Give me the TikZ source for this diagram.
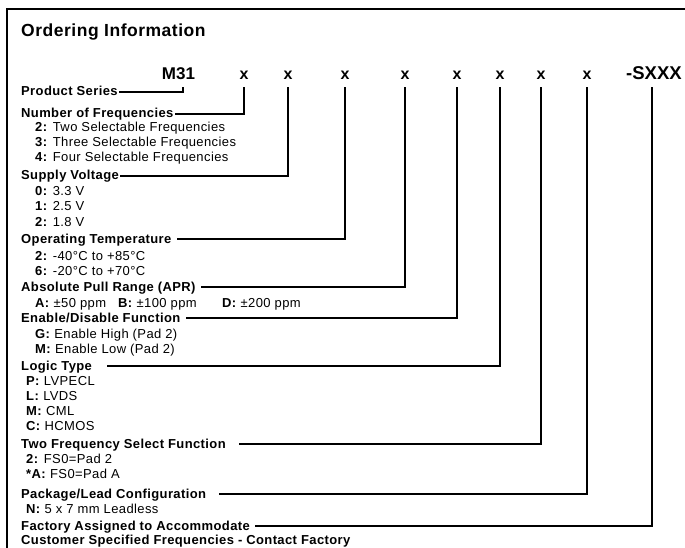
\documentclass[tikz,border=0pt]{standalone}
\usepackage{fontspec}
\setmainfont{Liberation Sans}
\newfontfamily\trkfont{Liberation Sans}[LetterSpace=3]
\newfontfamily\ttlfont{Liberation Sans}[LetterSpace=3]
\tikzset{
  frame/.style={line width=2pt},
  conn/.style={line width=1.6pt},
  code/.style={anchor=base, inner sep=0pt, font=\bfseries\fontsize{16}{18}\selectfont},
  hdr/.style={anchor=base west, inner sep=0pt, text height=8pt, text depth=0pt, font=\trkfont\bfseries\fontsize{13}{15}\selectfont},
  itm/.style={anchor=base west, inner sep=0pt, font=\trkfont\fontsize{13}{15}\selectfont}
}
\begin{document}
\begin{tikzpicture}[x=1pt,y=-1pt]
\useasboundingbox (0,0) rectangle (685,548);
\draw[frame] (7,549) -- (7,9.5) -- (686,9.5);

\node[anchor=base west, inner sep=0pt, font=\ttlfont\bfseries\fontsize{17.5}{20}\selectfont] (title) at (21,37) {Ordering Information};

% code row
\node[code, font=\bfseries\fontsize{17}{19}\selectfont] (m31) at (178.5,80) {M31};
\node[code] (x1) at (244,80) {x};
\node[code] (x2) at (288,80) {x};
\node[code] (x3) at (345,80) {x};
\node[code] (x4) at (405,80) {x};
\node[code] (x5) at (457,80) {x};
\node[code] (x6) at (500,80) {x};
\node[code] (x7) at (541,80) {x};
\node[code] (x8) at (587,80) {x};
\node[code, font=\bfseries\fontsize{18.5}{20}\selectfont] (sx) at (654,80) {-SXXX};

% headers
\node[hdr] (hps) at (21,96) {Product Series};
\node[hdr] (hnf) at (21,118) {Number of Frequencies};
\node[hdr] (hsv) at (21,180) {Supply Voltage};
\node[hdr] (hot) at (21,243) {Operating Temperature};
\node[hdr] (hap) at (21,291) {Absolute Pull Range (APR)};
\node[hdr] (hed) at (21,322) {Enable/Disable Function};
\node[hdr] (hlt) at (21,370) {Logic Type};
\node[hdr] (htf) at (21,448) {Two Frequency Select Function};
\node[hdr] (hpl) at (21,498) {Package/Lead Configuration};
\node[hdr] (hfa) at (21,530) {Factory Assigned to Accommodate};
\node[hdr] (hcu) at (21,544) {Customer Specified Frequencies - Contact Factory};

% items
\node[itm] (nf2) at (35,132) {\textbf{2:} Two Selectable Frequencies};
\node[itm] (nf3) at (35,147) {\textbf{3:} Three Selectable Frequencies};
\node[itm] (nf4) at (35,162) {\textbf{4:} Four Selectable Frequencies};
\node[itm] (sv0) at (35,196) {\textbf{0:} 3.3 V};
\node[itm] (sv1) at (35,211) {\textbf{1:} 2.5 V};
\node[itm] (sv2) at (35,226) {\textbf{2:} 1.8 V};
\node[itm] (ot2) at (35,260) {\textbf{2:} -40°C to +85°C};
\node[itm] (ot6) at (35,275) {\textbf{6:} -20°C to +70°C};
\node[itm] (apa) at (35,307) {\textbf{A:} ±50 ppm};
\node[itm] (apb) at (118,307) {\textbf{B:} ±100 ppm};
\node[itm] (apd) at (222,307) {\textbf{D:} ±200 ppm};
\node[itm] (edg) at (35,338) {\textbf{G:} Enable High (Pad 2)};
\node[itm] (edm) at (35,353) {\textbf{M:} Enable Low (Pad 2)};
\node[itm] (ltp) at (26,385) {\textbf{P:} LVPECL};
\node[itm] (ltl) at (26,400) {\textbf{L:} LVDS};
\node[itm] (ltm) at (26,415) {\textbf{M:} CML};
\node[itm] (ltc) at (26,430) {\textbf{C:} HCMOS};
\node[itm] (tf2) at (26,463) {\textbf{2:} FS0=Pad 2};
\node[itm] (tfa) at (26,478) {\textbf{*A:} FS0=Pad A};
\node[itm] (pln) at (26,513) {\textbf{N:} 5 x 7 mm Leadless};

% connectors
\draw[conn] ([xshift=4.5pt]m31.south) ++(0,7) |- ([xshift=1pt]hps.east);
\draw[conn] (x1.south) ++(0,7) |- ([xshift=1pt]hnf.east);
\draw[conn] (x2.south) ++(0,7) |- ([xshift=1pt]hsv.east);
\draw[conn] (x3.south) ++(0,7) |- ([xshift=5pt]hot.east);
\draw[conn] (x4.south) ++(0,7) |- ([xshift=5pt]hap.east);
\draw[conn] (x5.south) ++(0,7) |- ([xshift=5pt]hed.east);
\draw[conn] (x6.south) ++(0,7) |- ([xshift=15pt]hlt.east);
\draw[conn] (x7.south) ++(0,7) |- ([xshift=13pt]htf.east);
\draw[conn] (x8.south) ++(0,7) |- ([xshift=13pt]hpl.east);
\draw[conn] ([xshift=-2pt]sx.south) ++(0,7) |- ([xshift=5pt]hfa.east);
\end{tikzpicture}
\end{document}
